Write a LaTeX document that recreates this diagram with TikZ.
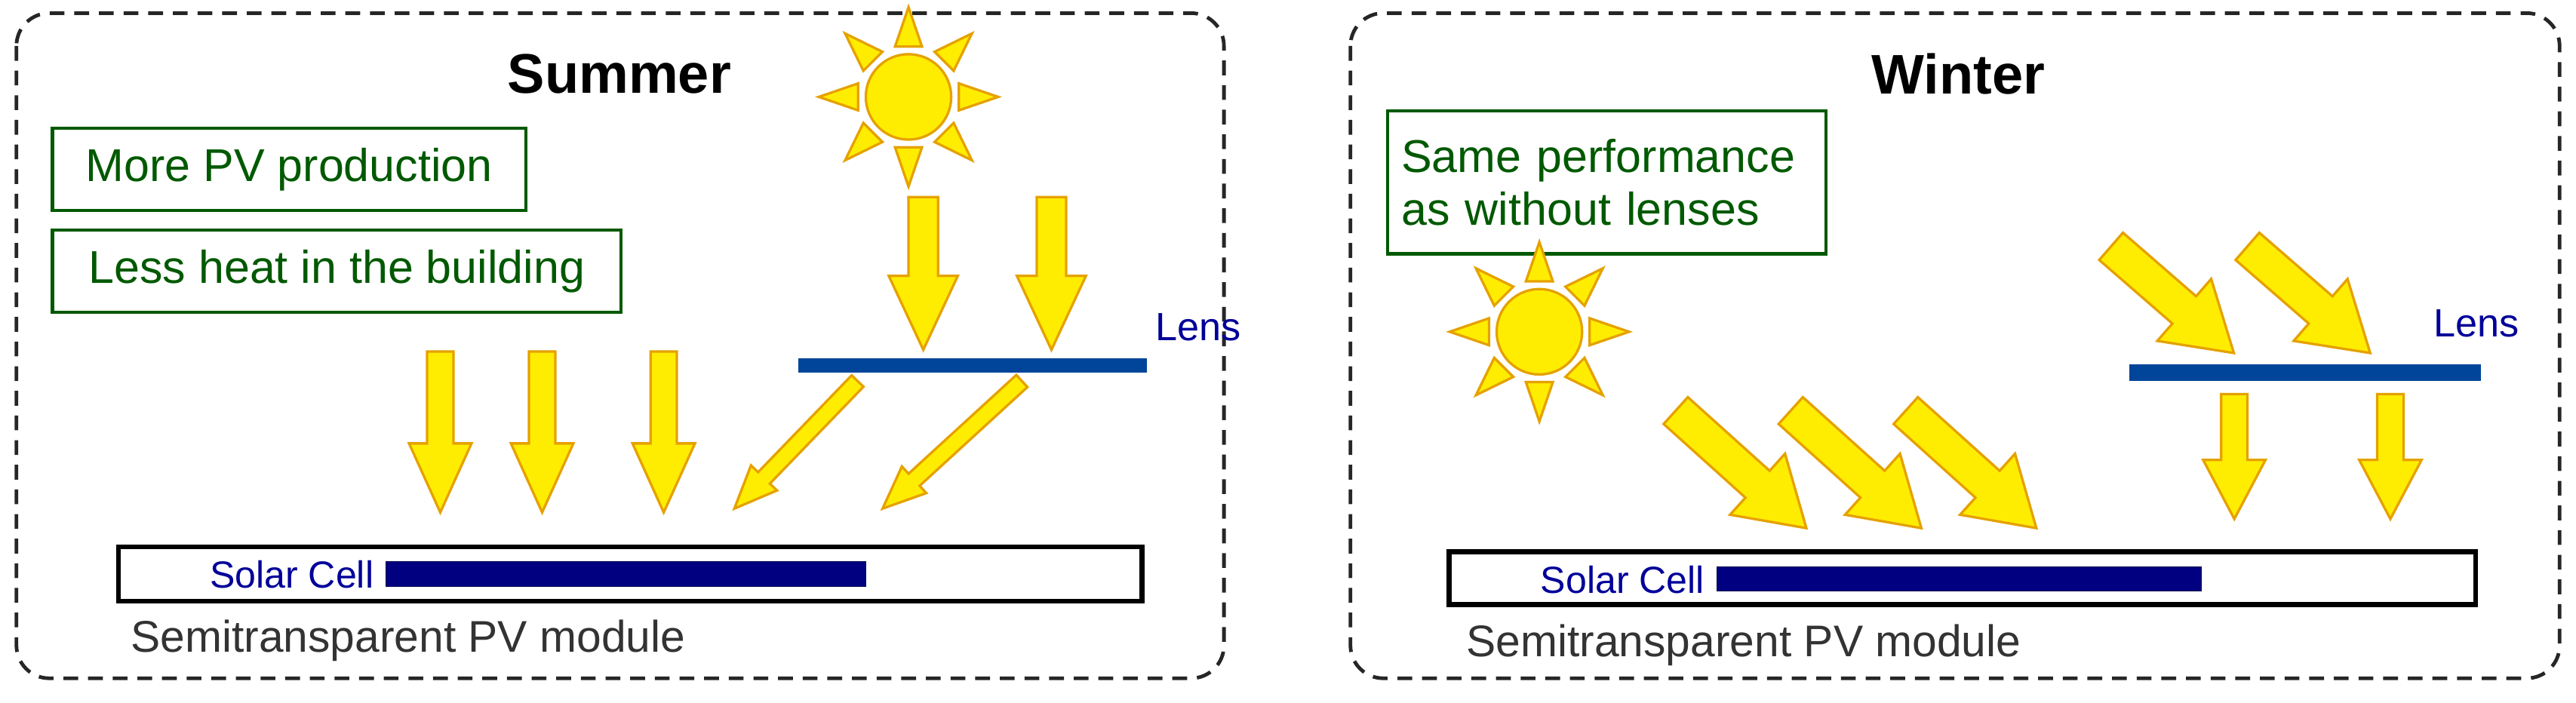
\documentclass[tikz,border=0pt]{standalone}
\usepackage{fontspec}
\setmainfont{Liberation Sans}
\begin{document}
\begin{tikzpicture}[x=1pt,y=-1pt,
  panel/.style={draw=black!85,line width=2.2pt,dash pattern=on 9pt off 6pt,rounded corners=20pt},
  gbox/.style={draw=green!35!black,line width=2pt,text=green!35!black,font=\fontsize{28}{32}\selectfont,inner sep=0pt},
  ya/.style={fill=yellow!95!orange,draw=orange!60!yellow!90!black,line width=1.5pt,line join=miter},
  lens/.style={fill=blue!55!cyan!60!black,draw=none},
  cell/.style={fill=blue!50!black,draw=blue!30!black},
  lbl/.style={text=blue!60!black,font=\fontsize{24}{28}\selectfont},
  txt/.style={text=black!80,font=\fontsize{27}{30}\selectfont},
  ttl/.style={font=\bfseries\fontsize{34}{38}\selectfont}]
\newcommand\yarrow[7]{\begin{scope}[shift={(#1,#2)},rotate=#3]
 \filldraw[ya] (0,-#5)--(#4-#7,-#5)--(#4-#7,-#6)--(#4,0)--(#4-#7,#6)--(#4-#7,#5)--(0,#5)--cycle;\end{scope}}
\newcommand\mysun[3]{\begin{scope}[shift={(#1,#2)}]
 \foreach \a in {0,45,...,315}{\filldraw[ya] (\a-15:#3*1.22)--(\a:#3*2.1)--(\a+15:#3*1.22)--cycle;}
 \filldraw[ya] (0,0) circle (#3);\end{scope}}
\useasboundingbox (0,0) rectangle (1568,428);
% panels
\draw[panel] (10,8) rectangle (745,413);
\draw[panel] (822,8) rectangle (1558,413);
% ---- Summer
\node[ttl] (t1) at (377,45) {Summer};
\node[gbox,minimum width=288pt,minimum height=50pt] (g1) at (176,103) {More PV production};
\node[gbox,minimum width=346pt,minimum height=50pt] (g2) at (205,165) {Less heat in the building};
\mysun{553}{59}{26}
\yarrow{562}{120}{-90}{93}{9}{21}{45}
\yarrow{640}{120}{-90}{93}{9}{21}{45}
\fill[lens] (486,218) rectangle (698,227);
\node[lbl,anchor=west] (l1) at (700,199) {Lens};
\yarrow{268}{214}{-90}{98}{8}{19}{42}
\yarrow{330}{214}{-90}{98}{8}{19}{42}
\yarrow{404}{214}{-90}{98}{8}{19}{42}
\yarrow{522}{232}{-134}{108}{5}{11}{26}
\yarrow{622}{232}{-137.5}{115}{5}{11}{26}
\draw[line width=3pt] (72,333) rectangle (695,366);
\fill[cell] (235,342) rectangle (527,357);
\node[lbl,anchor=east,font=\fontsize{23}{26}\selectfont] (s1) at (231,350) {Solar Cell};
\node[txt,anchor=west] (m1) at (76,390) {Semitransparent PV module};
% ---- Winter
\node[ttl] (t2) at (1192,45) {Winter};
\node[gbox,minimum width=267pt,minimum height=87pt,align=left,text width=250pt] (g3) at (978,111) {Same performance\\as without lenses};
\mysun{937}{202}{26}
\yarrow{1020}{250}{-42}{107}{11}{25}{40}
\yarrow{1090}{250}{-42}{107}{11}{25}{40}
\yarrow{1160}{250}{-42}{107}{11}{25}{40}
\yarrow{1285}{150}{-41}{99}{11}{25}{40}
\yarrow{1368}{150}{-41}{99}{11}{25}{40}
\fill[lens] (1296,222) rectangle (1510,232);
\node[lbl,anchor=west] (l2) at (1478,197) {Lens};
\yarrow{1360}{240}{-90}{76}{8}{19}{36}
\yarrow{1455}{240}{-90}{76}{8}{19}{36}
\draw[line width=3pt] (882,336) rectangle (1507,368);
\fill[cell] (1045,345) rectangle (1340,360);
\node[lbl,anchor=east,font=\fontsize{23}{26}\selectfont] (s2) at (1041,353) {Solar Cell};
\node[txt,anchor=west] (m2) at (889,393) {Semitransparent PV module};
\end{tikzpicture}
\end{document}
